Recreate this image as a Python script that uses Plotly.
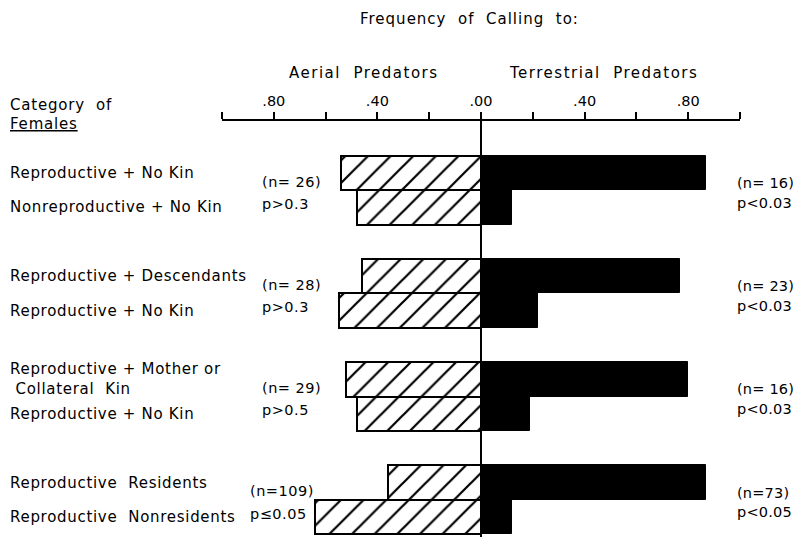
import plotly.graph_objects as go

# ---------------- data ----------------
categories = [
    "Reproductive + No Kin",
    "Nonreproductive + No Kin",
    "Reproductive + Descendants",
    "Reproductive + No Kin",
    "Reproductive + Mother or<br> Collateral  Kin",
    "Reproductive + No Kin",
    "Reproductive  Residents",
    "Reproductive  Nonresidents",
]
aerial = [0.54, 0.48, 0.46, 0.55, 0.52, 0.48, 0.36, 0.64]
terrestrial = [0.87, 0.12, 0.77, 0.22, 0.80, 0.19, 0.87, 0.12]
aerial_n = ["(n= 26)", "(n= 28)", "(n= 29)", "(n=109)"]
aerial_p = ["p>0.3", "p>0.3", "p>0.5", "p\u22640.05"]
terr_n = ["(n= 16)", "(n= 23)", "(n= 16)", "(n=73)"]
terr_p = ["p<0.03", "p<0.03", "p<0.03", "p<0.05"]
tick_vals = [-1.0, -0.8, -0.6, -0.4, -0.2, 0.0, 0.2, 0.4, 0.6, 0.8, 1.0]
tick_text = ["", ".80", "", ".40", "", ".00", "", ".40", "", ".80", ""]

# bar positions: two bars per comparison group, a gap between groups
pos = [g * 3 + k for g in range(4) for k in range(2)]
group_centers = [g * 3 + 0.5 for g in range(4)]

FONT = "DejaVu Sans"


def spaced(t, ls):
    return f'<span style="letter-spacing:{ls}px">{t}</span>'


fig = go.Figure()
fig.add_trace(go.Bar(
    y=pos, x=[-v for v in aerial], orientation="h", width=1,
    marker=dict(color="white", line=dict(color="black", width=2),
                pattern=dict(shape="/", fgcolor="#000000", bgcolor="white",
                             fgopacity=1, fillmode="replace",
                             size=16, solidity=0.14)),
    name="Aerial Predators", showlegend=False,
))
fig.add_trace(go.Bar(
    y=pos, x=terrestrial, orientation="h", width=1,
    marker=dict(color="black", line=dict(color="black", width=1)),
    name="Terrestrial Predators", showlegend=False,
))

ann = []
for i, c in enumerate(categories):
    ann.append(dict(x=-0.413, xref="paper", y=pos[i], yref="y",
                    text="<br>".join(spaced(s, 0.7) for s in c.split("<br>")),
                    xanchor="left", yanchor="middle", showarrow=False,
                    align="left", font=dict(size=15)))
for g, yc in enumerate(group_centers):
    xl = -0.855 if g < 3 else -0.898
    ann.append(dict(x=xl, xref="x", y=yc - 0.25, yref="y", text=spaced(aerial_n[g], 0.5),
                    xanchor="left", yanchor="middle", showarrow=False, font=dict(size=14.5)))
    ann.append(dict(x=xl, xref="x", y=yc + 0.4, yref="y", text=spaced(aerial_p[g], 0.5),
                    xanchor="left", yanchor="middle", showarrow=False, font=dict(size=14.5)))
    ann.append(dict(x=0.98, xref="x", y=yc - 0.21, yref="y", text=spaced(terr_n[g], 0.2),
                    xanchor="left", yanchor="middle", showarrow=False, font=dict(size=14.5)))
    ann.append(dict(x=0.98, xref="x", y=yc + 0.36, yref="y", text=spaced(terr_p[g], 0.2),
                    xanchor="left", yanchor="middle", showarrow=False, font=dict(size=14.5)))

# header texts, positioned by page pixel y
hdr = [
    dict(x=-0.043, xref="x", y=19, text=spaced("Frequency  of  Calling  to:", 1.0), size=15),
    dict(x=-0.45, xref="x", y=73, text=spaced("Aerial  Predators", 1.5), size=15),
    dict(x=0.474, xref="x", y=73, text=spaced("Terrestrial  Predators", 1.5), size=15),
    dict(x=-0.413, xref="paper", y=105.5, xanchor="left",
         text=spaced("Category  of", 0.8), size=15),
    dict(x=-0.413, xref="paper", y=123.5, xanchor="left",
         text='<span style="text-decoration:underline;letter-spacing:0.8px">Females</span>', size=15),
]
T_PAGE, PLOT_H = 121, 416
for h in hdr:
    ann.append(dict(x=h["x"], xref=h["xref"], y=1 - (h["y"] - T_PAGE) / PLOT_H, yref="paper",
                    xanchor=h.get("xanchor", "center"), yanchor="middle", text=h["text"],
                    showarrow=False, font=dict(size=h["size"])))

fig.update_layout(
    width=797, height=537,
    margin=dict(l=222, r=57, t=121, b=0),
    paper_bgcolor="white", plot_bgcolor="white",
    barmode="overlay", bargap=0,
    font=dict(family=FONT, color="black", size=14),
    annotations=ann,
    xaxis=dict(range=[-1, 1], side="top", tickvals=tick_vals, ticktext=tick_text,
               ticks="outside", ticklen=7, tickwidth=1.6, tickcolor="black",
               showline=True, linecolor="black", linewidth=1.8,
               zeroline=True, zerolinecolor="black", zerolinewidth=1.8,
               showgrid=False, tickfont=dict(size=14.5), fixedrange=True),
    yaxis=dict(range=[10.58, -1.51], showticklabels=False, showgrid=False,
               zeroline=False, showline=False, ticks="", fixedrange=True),
)
fig.write_html(
    "out.html",
    config={"displayModeBar": False},
    post_script="document.body.style.margin='0';document.body.style.overflow='hidden';",
)
